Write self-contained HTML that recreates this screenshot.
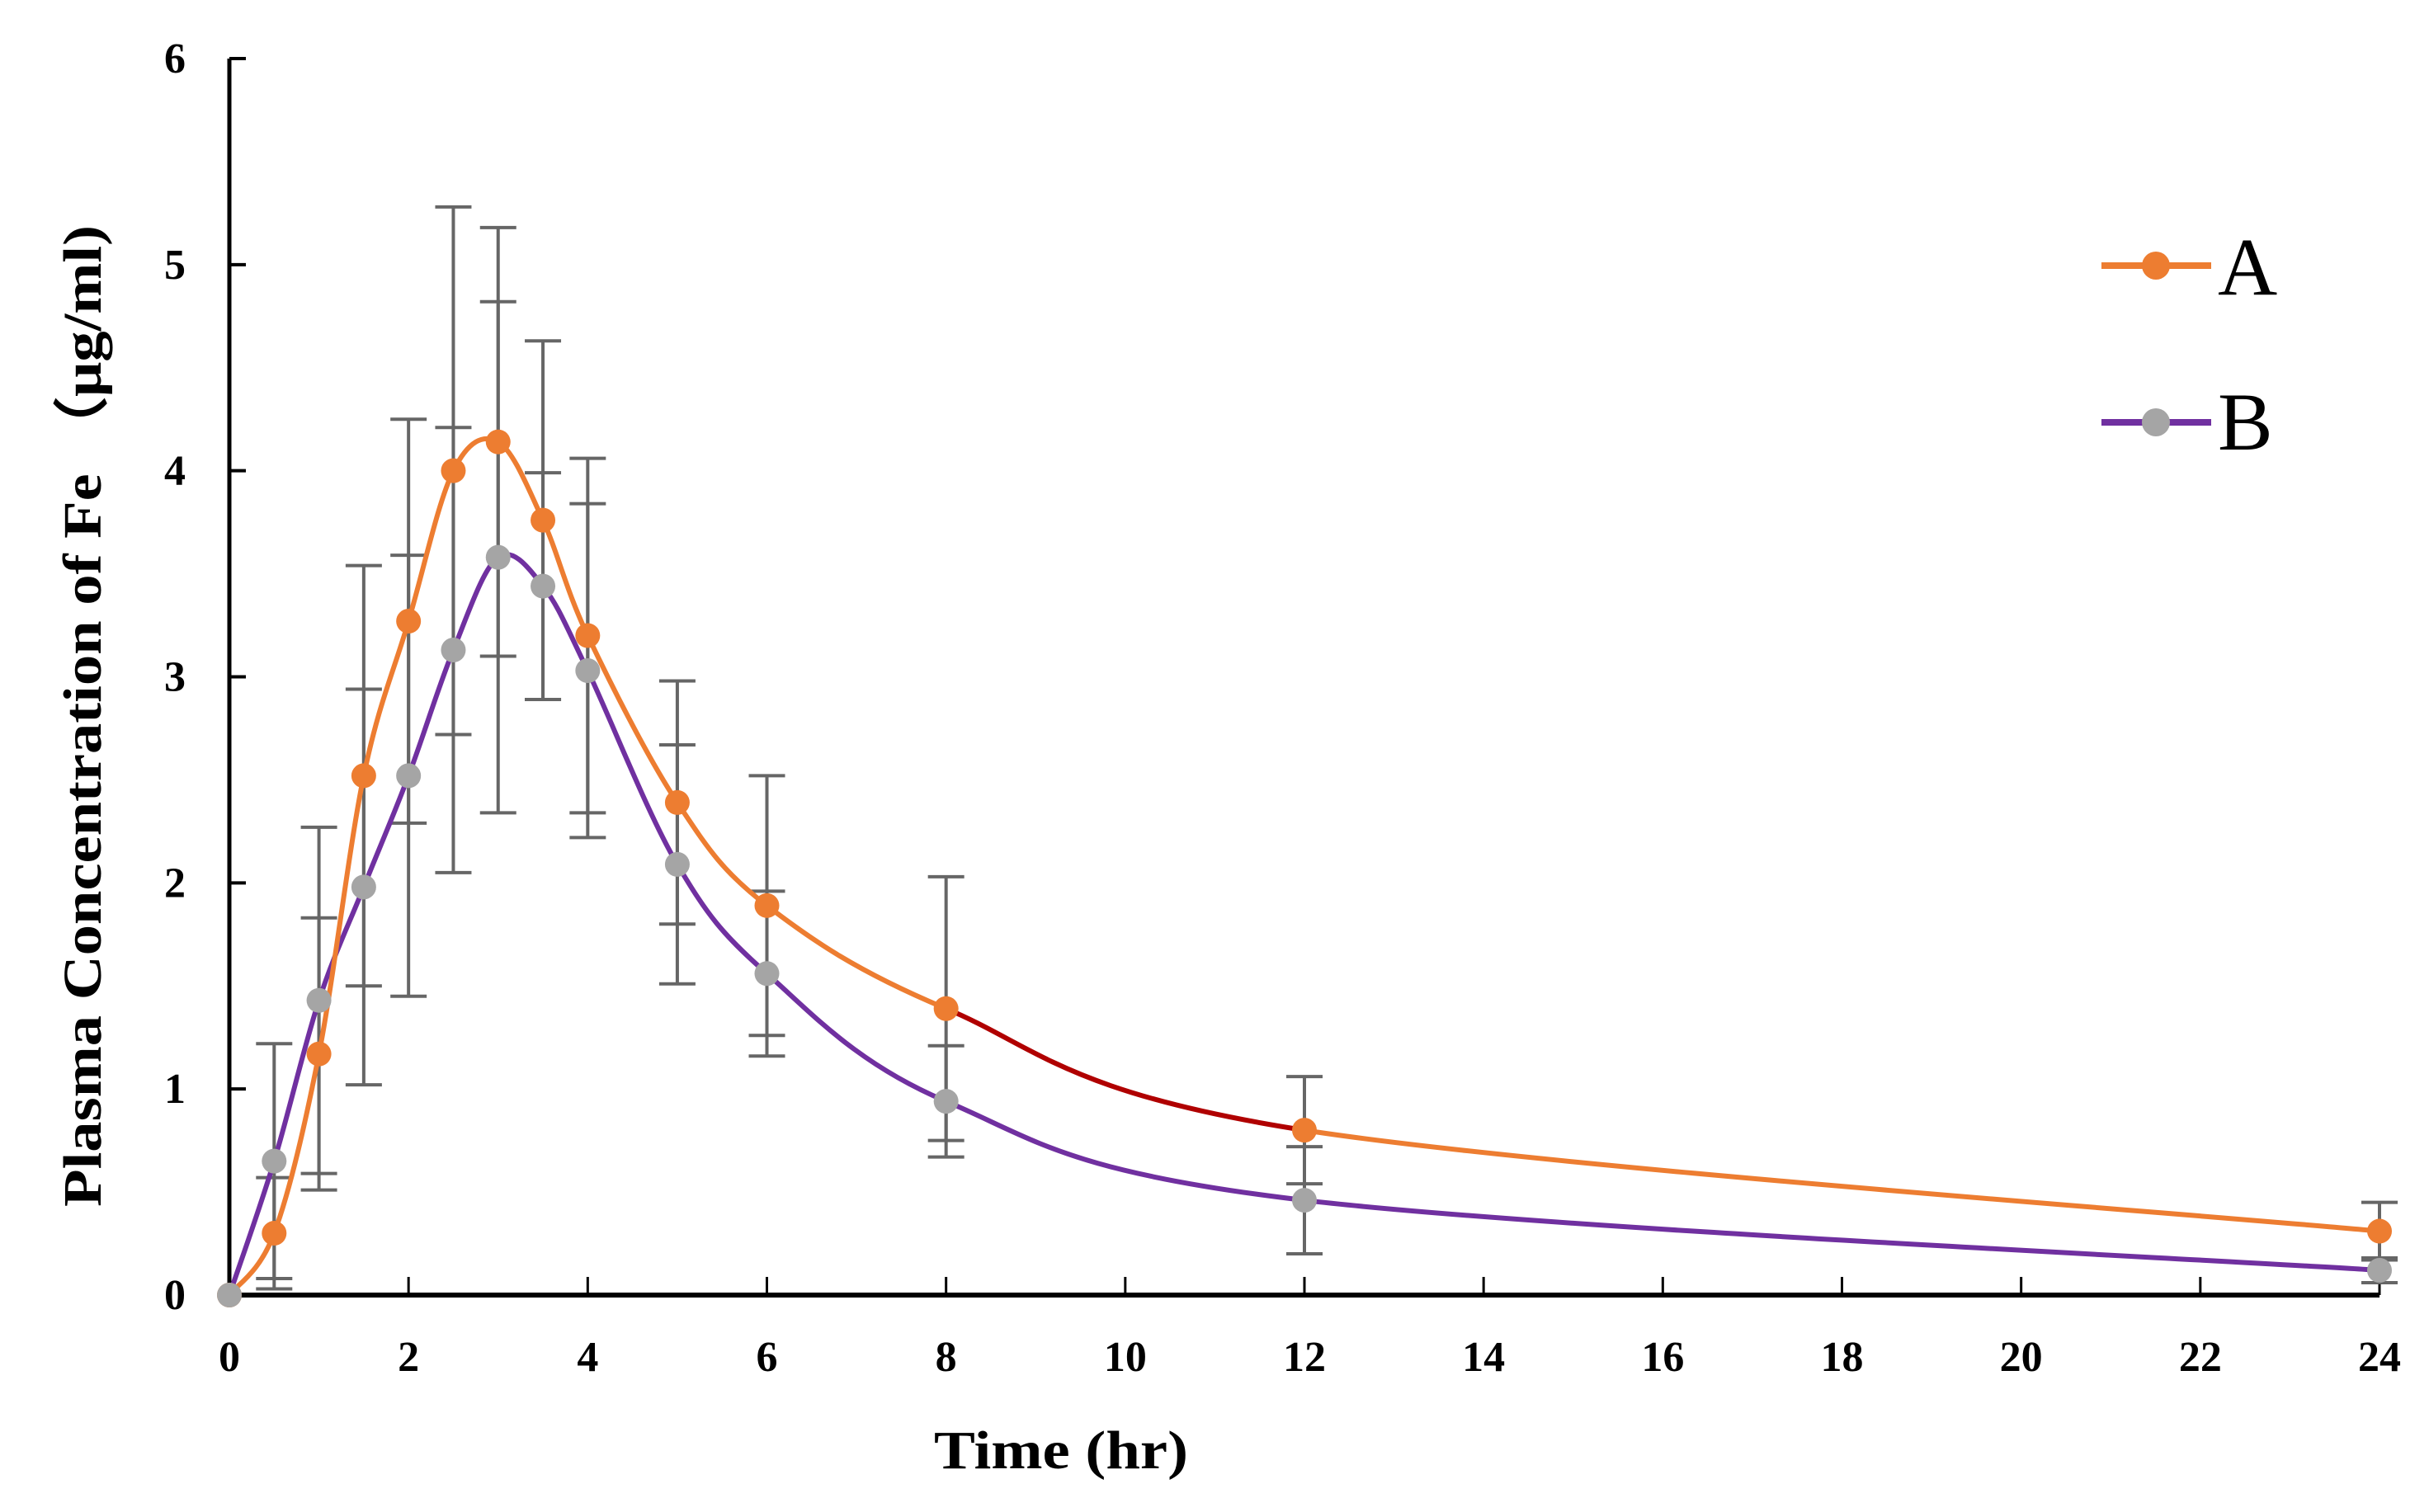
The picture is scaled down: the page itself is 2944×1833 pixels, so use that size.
<!DOCTYPE html>
<html><head><meta charset="utf-8"><style>
html,body{margin:0;padding:0;background:#fff;}
svg{display:block;}
svg text{font-family:"Liberation Serif","Times New Roman",serif;}
</style></head><body>
<svg id="chart" width="2944" height="1833" viewBox="0 0 2944 1833" xmlns="http://www.w3.org/2000/svg" font-family="Liberation Serif, serif">
<g id="axes"></g>
<g id="errs"></g>
<g id="lines"></g>
<g id="marks"></g>
<g>
  <line x1="2547" y1="322" x2="2680" y2="322" stroke="#ED7D31" stroke-width="8"/>
  <circle cx="2613" cy="322" r="17" fill="#ED7D31"/>
  <text x="2688" y="357" font-size="100">A</text>
  <line x1="2547" y1="512" x2="2680" y2="512" stroke="#7030A0" stroke-width="8"/>
  <circle cx="2613" cy="512" r="17" fill="#A5A5A5"/>
  <text x="2688" y="545" font-size="100">B</text>
</g>
<text x="1286" y="1780" font-size="66" font-weight="bold" text-anchor="middle" textLength="308" lengthAdjust="spacingAndGlyphs">Time (hr)</text>
<text transform="translate(122,868) rotate(-90)" font-size="66" font-weight="bold" text-anchor="middle" textLength="1190" lengthAdjust="spacingAndGlyphs">Plasma Concentration of Fe （μg/ml)</text>
</svg>
<script>
const times=[0,0.5,1,1.5,2,2.5,3,3.5,4,5,6,8,12,24];
const seriesA=[0,0.30,1.17,2.52,3.27,4.00,4.14,3.76,3.20,2.39,1.89,1.39,0.80,0.31];
const seriesB=[0,0.65,1.43,1.98,2.52,3.13,3.58,3.44,3.03,2.09,1.56,0.94,0.46,0.12];
const errA=[0,0.27,0.66,1.02,0.98,1.28,1.04,0.87,0.86,0.59,0.63,0.64,0.26,0.14];
const errB=[0,0.57,0.84,0.96,1.07,1.08,1.24,0.55,0.81,0.58,0.40,0.27,0.26,0.06];
const xTicks=[0,2,4,6,8,10,12,14,16,18,20,22,24];
const yTicks=[0,1,2,3,4,5,6];
const NS="http://www.w3.org/2000/svg";
const X0=278,X1=2884,Y0=1570,Y1=71;
function sx(t){return X0+(t-0)/(24-0)*(X1-X0);}
function sy(v){return Y0-(v/6)*(Y0-Y1);}
function mk(tag,attrs,parent){const e=document.createElementNS(NS,tag);for(const k in attrs)e.setAttribute(k,attrs[k]);parent.appendChild(e);return e;}
const axes=document.getElementById('axes');
let e;
e=mk('line',{x1:X0,y1:Y0,x2:X1,y2:Y0,stroke:'#000','stroke-width':6},axes);


e=mk('line',{x1:X0,y1:Y0+3,x2:X0,y2:Y1,stroke:'#000','stroke-width':5},axes);


xTicks.forEach(t=>{
  const x=sx(t);
  let l=mk('line',{x1:x,y1:Y0,x2:x,y2:Y0-22,stroke:'#000','stroke-width':3},axes);
  
  
  let tx=mk('text',{x:x,y:1662,'font-size':52,'font-weight':'bold','text-anchor':'middle'},axes);
  tx.textContent=t;
  
  
});
yTicks.forEach(v=>{
  const y=sy(v);
  let l=mk('line',{x1:X0,y1:y,x2:X0+20,y2:y,stroke:'#000','stroke-width':4},axes);
  
  
  let tx=mk('text',{x:225,y:y+17,'font-size':52,'font-weight':'bold','text-anchor':'end'},axes);
  tx.textContent=v;
  
  
});
const errs=document.getElementById('errs');
function drawErr(vals,errv,name){
  times.forEach((t,i)=>{
    if(!errv[i])return;
    const x=sx(t),yt=sy(vals[i]+errv[i]),yb=sy(Math.max(0,vals[i]-errv[i]));
    const g=mk('g',{stroke:'#666','stroke-width':4},errs);
    
    
    mk('line',{x1:x,y1:yt,x2:x,y2:yb},g);
    mk('line',{x1:x-22,y1:yt,x2:x+22,y2:yt},g);
    mk('line',{x1:x-22,y1:yb,x2:x+22,y2:yb},g);
  });
}
drawErr(seriesA,errA,'error-bar-a');
drawErr(seriesB,errB,'error-bar-b');
function segPath(pts,i){
  const p0=pts[Math.max(0,i-1)],p1=pts[i],p2=pts[i+1],p3=pts[Math.min(pts.length-1,i+2)];
  const k=1/6;
  const c1=[p1[0]+(p2[0]-p0[0])*k,p1[1]+(p2[1]-p0[1])*k];
  const c2=[p2[0]-(p3[0]-p1[0])*k,p2[1]-(p3[1]-p1[1])*k];
  return 'M'+p1[0]+','+p1[1]+' C'+c1[0]+','+c1[1]+' '+c2[0]+','+c2[1]+' '+p2[0]+','+p2[1];
}
const lines=document.getElementById('lines');
function drawLine(vals,color,name,special){
  const pts=times.map((t,i)=>[sx(t),sy(vals[i])]);
  for(let i=0;i<pts.length-1;i++){
    let c=color;
    if(special&&times[i]===8)c='#B00000';
    const p=mk('path',{d:segPath(pts,i),fill:'none',stroke:c,'stroke-width':6},lines);
    
    
  }
}
drawLine(seriesB,'#7030A0','line-b',false);
drawLine(seriesA,'#ED7D31','line-a',true);
const marks=document.getElementById('marks');
times.forEach((t,i)=>{
  let c=mk('circle',{cx:sx(t),cy:sy(seriesA[i]),r:15,fill:'#ED7D31'},marks);
  
  
});
times.forEach((t,i)=>{
  let c=mk('circle',{cx:sx(t),cy:sy(seriesB[i]),r:15,fill:'#A5A5A5'},marks);
  
  
});
</script>
</body></html>
